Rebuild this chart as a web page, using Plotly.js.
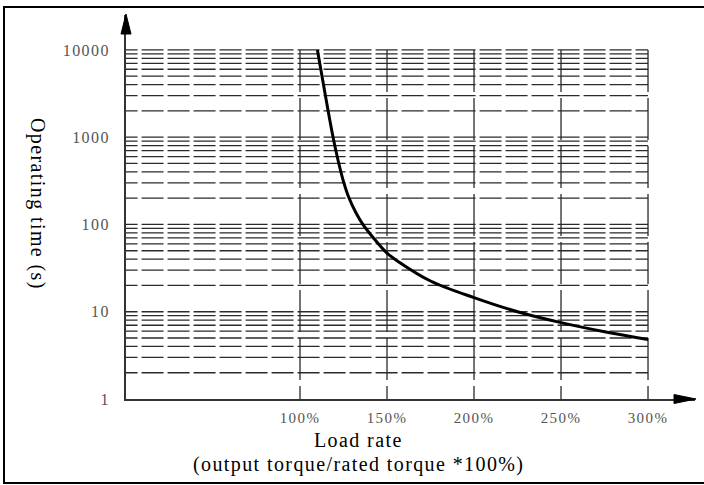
<!DOCTYPE html>
<html>
<head>
<meta charset="utf-8">
<script src="https://cdn.plot.ly/plotly-3.0.1.min.js"></script>
<style>
  html, body { margin: 0; padding: 0; background: #fff; }
  #chart { width: 704px; height: 485px; }
  .xtick text, .ytick text { letter-spacing: 1.4px; }
  .annotation-text { letter-spacing: 1.4px; }
</style>
</head>
<body>
<div id="chart"></div>
<script>
// ---- data ----
const loadRate      = [110, 115, 119, 122, 125, 128, 132, 136, 142, 150, 157, 175, 200, 225, 250, 275, 300];
const operatingTime = [10000, 2700, 1000, 530, 310, 205, 138, 101, 71, 47, 37, 22.5, 14.5, 10, 7.5, 5.9, 4.8];

const xTickValues = [100, 150, 200, 250, 300];
const xTickLabels = ['100%', '150%', '200%', '250%', '300%'];
const yTickValues = [1, 10, 100, 1000, 10000];
const yTickLabels = ['1', '10', '100', '1000', '10000'];
const gridDecades = [1, 10, 100, 1000];
const gridMultipliers = [2, 3, 4, 5, 6, 7, 8, 9, 10];

const xTitle = 'Load rate';
const xSubTitle = '(output torque/rated torque *100%)';
const yTitle = 'Operating time (s)';

// ---- layout geometry ----
const W = 704, H = 485;
const M = { l: 126, r: 9, t: 15, b: 86 };
const PW = W - M.l - M.r, PH = H - M.t - M.b;
const xMax = 327;          // axis runs past 300% to the arrow tip
const yMaxLog = 4.4;       // log10 range top (arrow tip above 10000)

// pixel -> paper helpers (for frame, arrows and titles only)
const px = v => (v - M.l) / PW;
const py = v => (H - M.b - v) / PH;

const shapes = [];
// horizontal dashed grid lines
gridDecades.forEach(d => gridMultipliers.forEach(m => {
  shapes.push({
    type: 'line', xref: 'x', yref: 'y', layer: 'below',
    x0: -6, x1: 300, y0: d * m, y1: d * m,
    line: { color: '#2a2a2a', width: 1.3, dash: '22px,4px' }
  });
}));
// vertical dashed grid lines
xTickValues.forEach(v => {
  shapes.push({
    type: 'line', xref: 'x', yref: 'y', layer: 'below',
    x0: v, x1: v, y0: 10000, y1: 1,
    line: { color: '#2a2a2a', width: 1.3, dash: '42px,6px' }
  });
});
// outer frame
shapes.push({
  type: 'rect', xref: 'paper', yref: 'paper',
  x0: px(4), x1: px(720), y0: py(7), y1: py(483),
  line: { color: '#000', width: 2 }, fillcolor: 'rgba(0,0,0,0)'
});
// arrow heads
shapes.push({
  type: 'path', xref: 'paper', yref: 'paper',
  path: `M ${px(696)},${py(399)} L ${px(674)},${py(394.5)} L ${px(674)},${py(403.5)} Z`,
  fillcolor: '#000', line: { color: '#000', width: 1 }
});
shapes.push({
  type: 'path', xref: 'paper', yref: 'paper',
  path: `M ${px(126)},${py(14)} L ${px(121)},${py(34)} L ${px(131)},${py(34)} Z`,
  fillcolor: '#000', line: { color: '#000', width: 1 }
});

const titleFont = { family: 'Liberation Serif, Times New Roman, serif', size: 20, color: '#000' };

const data = [{
  type: 'scatter', mode: 'lines',
  x: loadRate, y: operatingTime,
  line: { color: '#000', width: 3, shape: 'spline', smoothing: 1 },
  hoverinfo: 'skip'
}];

const layout = {
  width: W, height: H,
  margin: M,
  paper_bgcolor: '#fff', plot_bgcolor: '#fff',
  showlegend: false,
  xaxis: {
    range: [0, xMax], showgrid: false, zeroline: false,
    showline: true, linecolor: '#333', linewidth: 2,
    tickvals: xTickValues, ticktext: xTickLabels, ticks: '',
    ticklabelstandoff: 4,
    tickfont: { family: 'Liberation Serif, serif', size: 15, color: '#555' }
  },
  yaxis: {
    type: 'log', range: [0, yMaxLog], showgrid: false, zeroline: false,
    showline: true, linecolor: '#333', linewidth: 2,
    tickvals: yTickValues, ticktext: yTickLabels, ticks: '',
    ticklabelstandoff: 11,
    tickfont: { family: 'Liberation Serif, serif', size: 16, color: '#555' }
  },
  shapes: shapes,
  annotations: [
    { xref: 'paper', yref: 'paper', x: px(358), y: py(440), text: xTitle,
      showarrow: false, font: titleFont, xanchor: 'center', yanchor: 'middle' },
    { xref: 'paper', yref: 'paper', x: px(358), y: py(464), text: xSubTitle,
      showarrow: false, font: titleFont, xanchor: 'center', yanchor: 'middle' },
    { xref: 'paper', yref: 'paper', x: px(38), y: py(204), text: yTitle, textangle: 90,
      showarrow: false, font: titleFont, xanchor: 'center', yanchor: 'middle' }
  ]
};

Plotly.newPlot('chart', data, layout, { displayModeBar: false, staticPlot: true });
</script>
</body>
</html>
